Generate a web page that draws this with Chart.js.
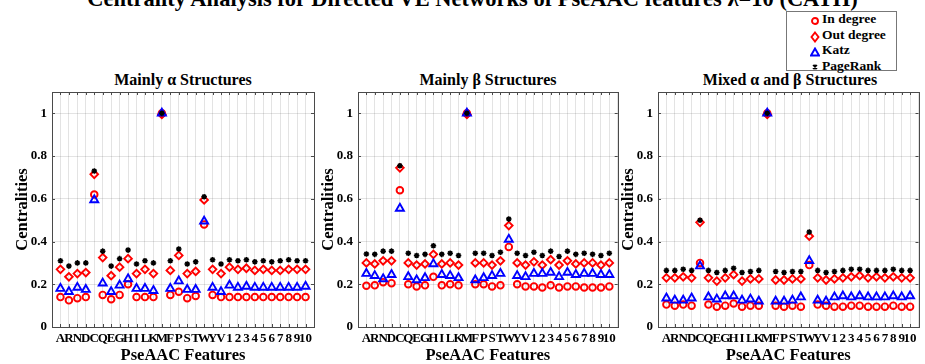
<!DOCTYPE html>
<html>
<head>
<meta charset="utf-8">
<script src="https://cdn.jsdelivr.net/npm/chart.js@4.4.0/dist/chart.umd.min.js"></script>
<style>
  body { margin: 0; width: 925px; height: 364px; overflow: hidden; background: #fff; position: relative;
         font-family: "Liberation Serif", "Times New Roman", serif; font-weight: bold; color: #000; }
  canvas { position: absolute; top: 0; }
  .main-title { position: absolute; left: 10px; width: 925px; top: -13px; line-height: 24px; font-size: 22.5px; text-align: center; white-space: nowrap; }
  .sub-title { position: absolute; top: 71px; width: 300px; font-size: 16px; line-height: 18px; text-align: center; white-space: nowrap; }
  .legend { position: absolute; left: 786px; top: 11px; width: 111px; height: 60px; border: 1px solid #777; background: #fff; box-sizing: border-box; }
  .legend div { position: absolute; left: 35px; font-size: 13.5px; line-height: 15px; white-space: nowrap; }
  .legend svg { position: absolute; left: 23px; }
</style>
</head>
<body>
<div class="main-title">Centrality Analysis for Directed VE Networks of PseAAC features &lambda;=10 (CATH)</div>

<div class="legend">
  <svg width="10" height="10" style="top:4px"><circle cx="5" cy="5" r="3" fill="none" stroke="#f00" stroke-width="1.9"/></svg>
  <div style="top:-1px">In degree</div>
  <svg width="10" height="12" style="top:19px"><polygon points="5,1.5 8.5,6 5,10.5 1.5,6" fill="none" stroke="#f00" stroke-width="1.9"/></svg>
  <div style="top:14.5px">Out degree</div>
  <svg width="10" height="10" style="top:35px"><polygon points="5,1.5 9,8.5 1,8.5" fill="none" stroke="#00f" stroke-width="1.9"/></svg>
  <div style="top:30px">Katz</div>
  <svg width="10" height="10" style="top:50px"><path d="M3,3 L7,7 M7,3 L3,7 M5,2.5 L5,7.5" stroke="#000" stroke-width="1.5"/></svg>
  <div style="top:45.5px">PageRank</div>
</div>

<div class="sub-title" style="left:33px">Mainly &alpha; Structures</div>
<div class="sub-title" style="left:338px">Mainly &beta; Structures</div>
<div class="sub-title" style="left:640px">Mixed &alpha; and &beta; Structures</div>

<canvas id="alphaChart" width="330" height="364" style="left:0px"></canvas>
<canvas id="betaChart" width="324" height="364" style="left:306px"></canvas>
<canvas id="mixedChart" width="319" height="364" style="left:606px"></canvas>

<script>
// PseAAC features: 20 amino acids + 10 pseudo components
const features = ['A', 'R', 'N', 'D', 'C', 'Q', 'E', 'G', 'H', 'I', 'L', 'K', 'M', 'F', 'P', 'S', 'T', 'W', 'Y', 'V',
  '1', '2', '3', '4', '5', '6', '7', '8', '9', '10'];
const yTicks = [0, 0.2, 0.4, 0.6, 0.8, 1];

// Mainly alpha
const alphaIn = [0.14, 0.125, 0.135, 0.14, 0.62, 0.15, 0.13, 0.15, 0.20, 0.14, 0.14, 0.14, 1.0, 0.15, 0.165, 0.135, 0.145, 0.48, 0.15, 0.14,
  0.14, 0.14, 0.14, 0.14, 0.14, 0.14, 0.14, 0.14, 0.14, 0.14];
const alphaOut = [0.27, 0.235, 0.25, 0.255, 0.715, 0.325, 0.24, 0.28, 0.32, 0.25, 0.27, 0.25, 0.995, 0.265, 0.335, 0.25, 0.26, 0.595, 0.27, 0.25,
  0.28, 0.27, 0.275, 0.265, 0.27, 0.265, 0.265, 0.27, 0.27, 0.27];
const alphaKatz = [0.18, 0.165, 0.185, 0.175, 0.595, 0.205, 0.165, 0.195, 0.225, 0.18, 0.18, 0.17, 1.0, 0.18, 0.215, 0.175, 0.175, 0.495, 0.185, 0.165,
  0.195, 0.185, 0.19, 0.185, 0.185, 0.185, 0.185, 0.185, 0.185, 0.19];
const alphaPR = [0.31, 0.285, 0.30, 0.30, 0.73, 0.355, 0.285, 0.32, 0.36, 0.295, 0.31, 0.30, 1.0, 0.31, 0.365, 0.295, 0.305, 0.61, 0.315, 0.295,
  0.315, 0.31, 0.315, 0.305, 0.31, 0.305, 0.31, 0.315, 0.31, 0.31];

// Mainly beta
const betaIn = [0.193, 0.195, 0.21, 0.205, 0.64, 0.20, 0.19, 0.195, 0.235, 0.195, 0.20, 0.195, 1.0, 0.20, 0.20, 0.19, 0.195, 0.375, 0.20, 0.19,
  0.19, 0.185, 0.195, 0.185, 0.19, 0.19, 0.185, 0.185, 0.185, 0.19];
const betaOut = [0.30, 0.295, 0.31, 0.31, 0.745, 0.30, 0.29, 0.295, 0.34, 0.295, 0.30, 0.29, 0.995, 0.30, 0.30, 0.29, 0.31, 0.475, 0.30, 0.29,
  0.305, 0.29, 0.315, 0.29, 0.31, 0.295, 0.30, 0.30, 0.29, 0.30];
const betaKatz = [0.25, 0.24, 0.225, 0.245, 0.555, 0.235, 0.22, 0.23, 0.295, 0.245, 0.24, 0.23, 1.0, 0.22, 0.23, 0.24, 0.25, 0.41, 0.24, 0.235,
  0.25, 0.25, 0.255, 0.235, 0.255, 0.245, 0.25, 0.25, 0.245, 0.245];
const betaPR = [0.342, 0.34, 0.355, 0.355, 0.755, 0.345, 0.335, 0.34, 0.38, 0.34, 0.345, 0.335, 1.0, 0.345, 0.345, 0.335, 0.35, 0.505, 0.345, 0.335,
  0.35, 0.335, 0.355, 0.33, 0.355, 0.34, 0.345, 0.34, 0.335, 0.345];

// Mixed alpha and beta
const mixedIn = [0.105, 0.10, 0.105, 0.10, 0.30, 0.105, 0.095, 0.10, 0.11, 0.095, 0.10, 0.10, 1.0, 0.10, 0.095, 0.10, 0.095, 0.29, 0.105, 0.10,
  0.095, 0.095, 0.10, 0.10, 0.095, 0.095, 0.095, 0.10, 0.095, 0.095];
const mixedOut = [0.23, 0.23, 0.235, 0.23, 0.49, 0.23, 0.215, 0.23, 0.245, 0.215, 0.225, 0.225, 0.995, 0.22, 0.22, 0.225, 0.225, 0.425, 0.23, 0.22,
  0.225, 0.23, 0.235, 0.24, 0.23, 0.235, 0.23, 0.235, 0.23, 0.23];
const mixedKatz = [0.135, 0.125, 0.125, 0.135, 0.285, 0.14, 0.13, 0.145, 0.145, 0.125, 0.13, 0.12, 1.0, 0.12, 0.12, 0.125, 0.14, 0.31, 0.125, 0.12,
  0.14, 0.145, 0.14, 0.145, 0.14, 0.14, 0.14, 0.145, 0.14, 0.145];
const mixedPR = [0.265, 0.265, 0.27, 0.265, 0.50, 0.265, 0.255, 0.265, 0.275, 0.255, 0.26, 0.265, 1.0, 0.26, 0.255, 0.26, 0.26, 0.445, 0.265, 0.255,
  0.26, 0.265, 0.27, 0.27, 0.265, 0.265, 0.265, 0.27, 0.265, 0.265];

const serif = "'Liberation Serif', 'Times New Roman', serif";
const tickFont = { family: serif, weight: 'bold', size: 13 };
const titleFont = { family: serif, weight: 'bold', size: 16.5, lineHeight: 1 };

// MATLAB style box with inward tick marks
const boxPlugin = {
  id: 'matlabBox',
  afterDraw(chart) {
    const { ctx, chartArea: a, scales: { x, y } } = chart;
    ctx.save();
    ctx.strokeStyle = '#4a4a4a';
    ctx.lineWidth = 1;
    ctx.beginPath();
    x.ticks.forEach(t => {
      const px = Math.round(x.getPixelForValue(t.value)) + 0.5;
      ctx.moveTo(px, a.top); ctx.lineTo(px, a.top + 3);
      ctx.moveTo(px, a.bottom); ctx.lineTo(px, a.bottom - 3);
    });
    y.ticks.forEach(t => {
      const py = Math.round(y.getPixelForValue(t.value)) + 0.5;
      ctx.moveTo(a.left, py); ctx.lineTo(a.left + 3, py);
      ctx.moveTo(a.right, py); ctx.lineTo(a.right - 3, py);
    });
    ctx.stroke();
    ctx.strokeRect(Math.round(a.left) + 0.5, Math.round(a.top) + 0.5,
      Math.round(a.right) - Math.round(a.left), Math.round(a.bottom) - Math.round(a.top));
    ctx.restore();
  }
};

function toPoints(values) {
  return values.map((v, i) => ({ x: i + 1, y: v }));
}

function makeChart(id, rightPad, inDeg, outDeg, katz, pageRank) {
  return new Chart(document.getElementById(id), {
    type: 'scatter',
    data: {
      datasets: [
        { label: 'In degree', data: toPoints(inDeg), pointStyle: 'circle', pointRadius: 3.3, pointBorderWidth: 1.9,
          borderColor: '#ff0000', backgroundColor: 'transparent', order: 4 },
        { label: 'Out degree', data: toPoints(outDeg), pointStyle: 'rectRot', pointRadius: 3.8, pointBorderWidth: 1.9,
          borderColor: '#ff0000', backgroundColor: 'transparent', order: 3 },
        { label: 'Katz', data: toPoints(katz), pointStyle: 'triangle', pointRadius: 4.6, pointBorderWidth: 1.9,
          borderColor: '#0000ff', backgroundColor: 'transparent', order: 2 },
        { label: 'PageRank', data: toPoints(pageRank), pointStyle: 'star', pointRadius: 2.8, pointBorderWidth: 1.5,
          borderColor: '#000000', backgroundColor: '#000000', order: 1 }
      ]
    },
    options: {
      responsive: false,
      animation: false,
      events: [],
      layout: { padding: { top: 92, right: rightPad, left: 0, bottom: 0 } },
      plugins: { legend: { display: false }, tooltip: { enabled: false } },
      scales: {
        x: {
          type: 'linear', min: 0, max: 31,
          afterFit: s => { s.height = 37; },
          ticks: {
            stepSize: 1, autoSkip: false, maxRotation: 0, minRotation: 0, padding: 4,
            color: '#000', font: tickFont,
            callback: v => (Number.isInteger(v) && v >= 1 && v <= features.length) ? features[v - 1] : ''
          },
          grid: { color: 'rgba(0,0,0,0.11)', drawTicks: false },
          border: { display: false },
          title: { display: true, text: 'PseAAC Features', color: '#000', font: titleFont, padding: { top: 0, bottom: 0 } }
        },
        y: {
          min: 0, max: 1.1,
          afterFit: s => { s.width = 52; },
          afterBuildTicks: s => { s.ticks = yTicks.map(v => ({ value: v })); },
          ticks: { padding: 5, color: '#000', font: tickFont, callback: v => String(+v.toFixed(1)) },
          grid: { color: 'rgba(0,0,0,0.11)', drawTicks: false },
          border: { display: false },
          title: { display: true, text: 'Centralities', color: '#000', font: titleFont, padding: { top: 14.5, bottom: 0 } }
        }
      }
    },
    plugins: [boxPlugin]
  });
}

makeChart('alphaChart', 16, alphaIn, alphaOut, alphaKatz, alphaPR);
makeChart('betaChart', 12.3, betaIn, betaOut, betaKatz, betaPR);
makeChart('mixedChart', 3, mixedIn, mixedOut, mixedKatz, mixedPR);
</script>
</body>
</html>
